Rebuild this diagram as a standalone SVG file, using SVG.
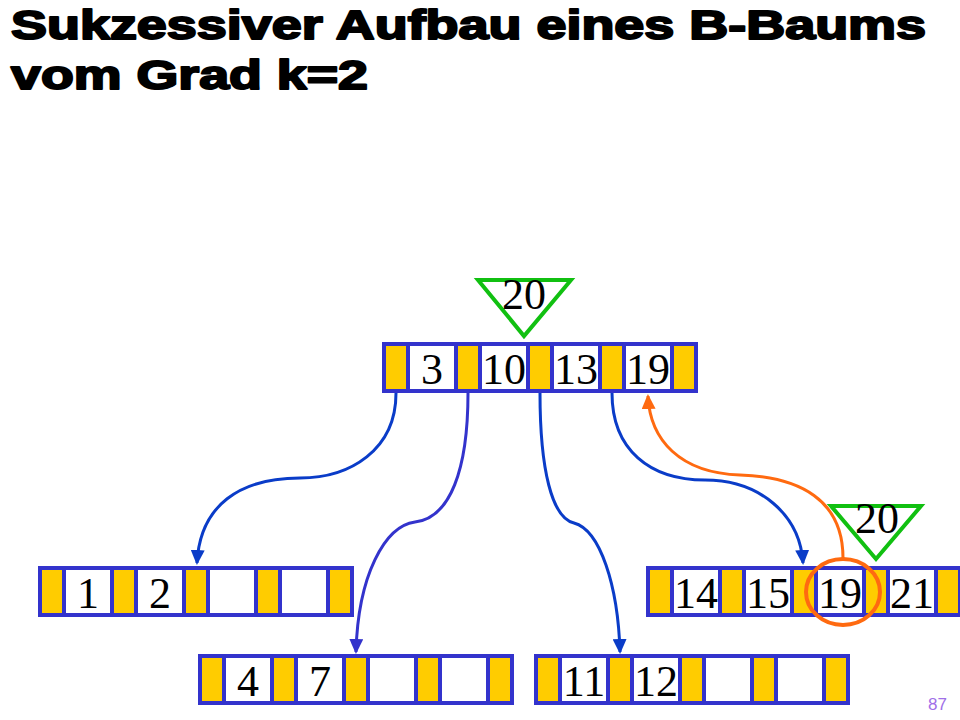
<svg xmlns="http://www.w3.org/2000/svg" width="960" height="720" viewBox="0 0 960 720">
<style>
.frame{fill:#3333CC}
.ptr{fill:#FFCC00}
.key{fill:#FFFFFF}
.num{font-family:"Liberation Serif","Times New Roman",serif;font-size:44px;fill:#000;text-anchor:middle}
.title{font-family:"Liberation Sans",Arial,sans-serif;font-weight:bold;font-size:41px;fill:#000;stroke:#000;stroke-width:2px;stroke-linejoin:round}
.edge{fill:none;stroke-width:3px}
.tri{fill:none;stroke:#11C011;stroke-width:4px;stroke-linejoin:miter}
</style>
<defs>
<marker id="ahB" markerWidth="16" markerHeight="14" refX="13" refY="7" orient="auto" markerUnits="userSpaceOnUse"><path d="M0,0 L15,7 L0,14 Z" fill="#0A3CC8"/></marker>
<marker id="ahP" markerWidth="16" markerHeight="14" refX="13" refY="7" orient="auto" markerUnits="userSpaceOnUse"><path d="M0,0 L15,7 L0,14 Z" fill="#3333CC"/></marker>
<marker id="ahO" markerWidth="16" markerHeight="14" refX="13" refY="7" orient="auto" markerUnits="userSpaceOnUse"><path d="M0,0 L15,7 L0,14 Z" fill="#FF6A10"/></marker>
</defs>
<rect width="960" height="720" fill="#fff"/>
<g id="title">
<text class="title" x="11" y="39" textLength="915" lengthAdjust="spacingAndGlyphs">Sukzessiver Aufbau eines B-Baums</text>
<text class="title" x="11" y="89" textLength="357" lengthAdjust="spacingAndGlyphs">vom Grad k=2</text>
</g>
<g id="root">
<rect class="frame" x="382" y="342" width="316" height="51"/>
<rect class="ptr" x="386" y="346" width="20" height="43"/>
<rect class="key" x="410" y="346" width="44" height="43"/>
<rect class="ptr" x="458" y="346" width="20" height="43"/>
<rect class="key" x="482" y="346" width="44" height="43"/>
<rect class="ptr" x="530" y="346" width="20" height="43"/>
<rect class="key" x="554" y="346" width="44" height="43"/>
<rect class="ptr" x="602" y="346" width="20" height="43"/>
<rect class="key" x="626" y="346" width="44" height="43"/>
<rect class="ptr" x="674" y="346" width="20" height="43"/>
<text class="num" x="432" y="384">3</text>
<text class="num" x="504" y="384">10</text>
<text class="num" x="576" y="384">13</text>
<text class="num" x="648" y="384">19</text>
</g>
<g id="leaf1">
<rect class="frame" x="38" y="566" width="316" height="51"/>
<rect class="ptr" x="42" y="570" width="20" height="43"/>
<rect class="key" x="66" y="570" width="44" height="43"/>
<rect class="ptr" x="114" y="570" width="20" height="43"/>
<rect class="key" x="138" y="570" width="44" height="43"/>
<rect class="ptr" x="186" y="570" width="20" height="43"/>
<rect class="key" x="210" y="570" width="44" height="43"/>
<rect class="ptr" x="258" y="570" width="20" height="43"/>
<rect class="key" x="282" y="570" width="44" height="43"/>
<rect class="ptr" x="330" y="570" width="20" height="43"/>
<text class="num" x="88" y="608">1</text>
<text class="num" x="160" y="608">2</text>
</g>
<g id="leaf2">
<rect class="frame" x="198" y="654" width="316" height="51"/>
<rect class="ptr" x="202" y="658" width="20" height="43"/>
<rect class="key" x="226" y="658" width="44" height="43"/>
<rect class="ptr" x="274" y="658" width="20" height="43"/>
<rect class="key" x="298" y="658" width="44" height="43"/>
<rect class="ptr" x="346" y="658" width="20" height="43"/>
<rect class="key" x="370" y="658" width="44" height="43"/>
<rect class="ptr" x="418" y="658" width="20" height="43"/>
<rect class="key" x="442" y="658" width="44" height="43"/>
<rect class="ptr" x="490" y="658" width="20" height="43"/>
<text class="num" x="248" y="696">4</text>
<text class="num" x="320" y="696">7</text>
</g>
<g id="leaf3">
<rect class="frame" x="534" y="654" width="316" height="51"/>
<rect class="ptr" x="538" y="658" width="20" height="43"/>
<rect class="key" x="562" y="658" width="44" height="43"/>
<rect class="ptr" x="610" y="658" width="20" height="43"/>
<rect class="key" x="634" y="658" width="44" height="43"/>
<rect class="ptr" x="682" y="658" width="20" height="43"/>
<rect class="key" x="706" y="658" width="44" height="43"/>
<rect class="ptr" x="754" y="658" width="20" height="43"/>
<rect class="key" x="778" y="658" width="44" height="43"/>
<rect class="ptr" x="826" y="658" width="20" height="43"/>
<text class="num" x="584" y="696">11</text>
<text class="num" x="656" y="696">12</text>
</g>
<g id="leaf4">
<rect class="frame" x="646" y="566" width="316" height="51"/>
<rect class="ptr" x="650" y="570" width="20" height="43"/>
<rect class="key" x="674" y="570" width="44" height="43"/>
<rect class="ptr" x="722" y="570" width="20" height="43"/>
<rect class="key" x="746" y="570" width="44" height="43"/>
<rect class="ptr" x="794" y="570" width="20" height="43"/>
<rect class="key" x="818" y="570" width="44" height="43"/>
<rect class="ptr" x="866" y="570" width="20" height="43"/>
<rect class="key" x="890" y="570" width="44" height="43"/>
<rect class="ptr" x="938" y="570" width="20" height="43"/>
<text class="num" x="696" y="608">14</text>
<text class="num" x="768" y="608">15</text>
<text class="num" x="840" y="608">19</text>
<text class="num" x="912" y="608">21</text>
</g>
<g id="connectors">
<path class="edge" stroke="#0A3CC8" marker-end="url(#ahB)" d="M396,393 C396,450 350,478 300,478 C240,478 200,505 197,563"/>
<path class="edge" stroke="#3333CC" marker-end="url(#ahP)" d="M468,393 C468,470 450,518 415,522 C385,526 358,575 356,652"/>
<path class="edge" stroke="#0A3CC8" marker-end="url(#ahB)" d="M540,393 C540,470 552,518 574,523 C600,530 618,585 620,652"/>
<path class="edge" stroke="#0A3CC8" marker-end="url(#ahB)" d="M612,393 C612,450 650,480 705,480 C760,480 800,515 803,563"/>
<path class="edge" stroke="#FF6A10" marker-end="url(#ahO)" d="M843,558 C843,500 800,477 740,475 C680,473 650,440 648,396"/>
</g>
<g id="insert-root">
<polygon class="tri" points="478,280 571,280 524,336"/>
<text class="num" x="524" y="309">20</text>
</g>
<g id="insert-leaf">
<polygon class="tri" points="831,506 921,506 876,559"/>
<text class="num" x="877" y="533">20</text>
</g>
<g id="highlight">
<ellipse cx="843" cy="592" rx="37" ry="33" fill="none" stroke="#FF6A10" stroke-width="4"/>
</g>
<g id="page">
<text x="928" y="710" font-family="'Liberation Sans',Arial,sans-serif" font-size="17" fill="#A070E8">87</text>
</g>
</svg>
